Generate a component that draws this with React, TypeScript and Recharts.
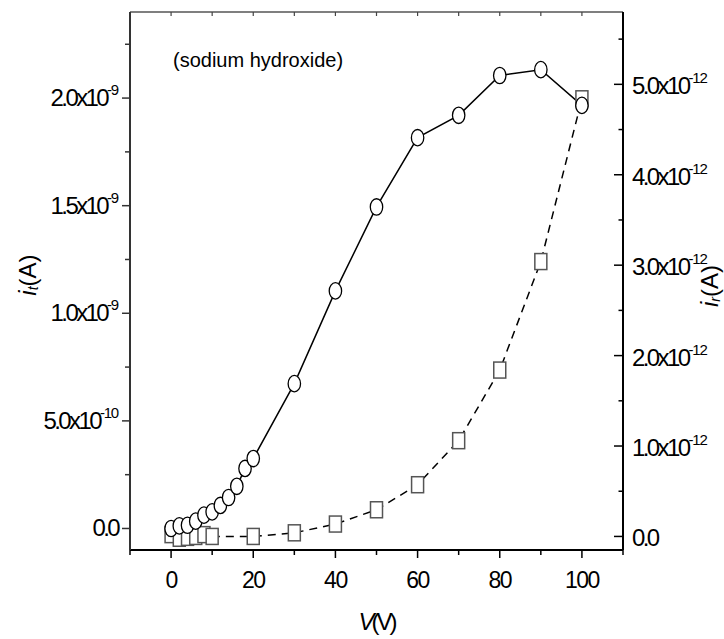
import { LineChart, Line, XAxis, YAxis, Label } from 'recharts';

// applied voltage (V)
const circleV = [0, 2, 4, 6, 8, 10, 12, 14, 16, 18, 20, 30, 40, 50, 60, 70, 80, 90, 100];
// i_t in units of 1e-9 A
const circleIt = [0.0, 0.012, 0.015, 0.034, 0.062, 0.077, 0.107, 0.144, 0.196, 0.279, 0.325, 0.673, 1.104, 1.494, 1.816, 1.92, 2.105, 2.132, 1.966];

const squareV = [0, 2, 4, 6, 8, 10, 20, 30, 40, 50, 60, 70, 80, 90, 100];
// i_r in units of 1e-12 A
const squareIr = [0.02, -0.02, -0.01, 0.0, 0.02, 0.0, 0.0, 0.04, 0.137, 0.295, 0.572, 1.059, 1.84, 3.04, 4.84];

const xTicks = [-10, 0, 10, 20, 30, 40, 50, 60, 70, 80, 90, 100, 110];
const leftTicks = [0, 0.25, 0.5, 0.75, 1, 1.25, 1.5, 1.75, 2, 2.25];
const rightTicks = [0, 0.5, 1, 1.5, 2, 2.5, 3, 3.5, 4, 4.5, 5, 5.5];
const leftLabels: Record<string, [string, string]> = {
  '0': ['0.0', ''],
  '0.5': ['5.0x10', '-10'],
  '1': ['1.0x10', '-9'],
  '1.5': ['1.5x10', '-9'],
  '2': ['2.0x10', '-9'],
};

const itData = circleV.map((v, i) => ({ v, y: circleIt[i] }));
const irData = squareV.map((v, i) => ({ v, y: squareIr[i] }));

const FONT = '"Liberation Sans", Arial, sans-serif';

function BottomTick({ x, y, payload }: any) {
  const v = payload.value;
  const major = v % 20 === 0;
  return (
    <g>
      <line x1={x} x2={x} y1={y} y2={y + (major ? 8 : 5)} stroke="#000" strokeWidth={1.5} />
      {major && (
        <text x={x} y={y + 38} textAnchor="middle" fontSize={23} letterSpacing={-1.5} fill="#000" fontFamily={FONT}>
          {v}
        </text>
      )}
    </g>
  );
}

function TopTick({ x, y }: any) {
  return <line x1={x} x2={x} y1={y} y2={y + 4} stroke="#444" strokeWidth={1.2} />;
}

function LeftTick({ x, y, payload }: any) {
  const v = payload.value;
  const lab = leftLabels[String(v)];
  return (
    <g>
      <line x1={x - (lab ? 8 : 5)} x2={x} y1={y} y2={y} stroke="#333" strokeWidth={1.5} />
      {lab && (
        <text x={x - 12} y={y + 8} textAnchor="end" fontSize={24} letterSpacing={-2.6} fill="#000" fontFamily={FONT}>
          {lab[0]}
          {lab[1] && (
            <tspan fontSize={15} dy={-11} letterSpacing={-1.2}>
              {lab[1]}
            </tspan>
          )}
        </text>
      )}
    </g>
  );
}

function RightTick({ x, y, payload }: any) {
  const v = payload.value;
  const major = Number.isInteger(v);
  return (
    <g>
      <line x1={x} x2={x - (major ? 9 : 4.5)} y1={y} y2={y} stroke="#000" strokeWidth={1.5} />
      {major && (
        <text x={x + 9} y={y + 10} textAnchor="start" fontSize={24} letterSpacing={-2.6} fill="#000" fontFamily={FONT}>
          {v === 0 ? '0.0' : `${v}.0x10`}
          {v !== 0 && (
            <tspan fontSize={15} dy={-11} letterSpacing={-1.2}>
              -12
            </tspan>
          )}
        </text>
      )}
    </g>
  );
}

function CircleDot({ cx, cy, index }: any) {
  return <ellipse key={`c${index}`} cx={cx} cy={cy} rx={6.2} ry={8.2} fill="#fff" stroke="#000" strokeWidth={1.3} />;
}

function SquareDot({ cx, cy, index }: any) {
  return <rect key={`s${index}`} x={cx - 6} y={cy - 8} width={12} height={16} fill="#fff" stroke="#555" strokeWidth={1.5} />;
}

function AxisTitle({ cx, cy, sub, rotate }: { cx: number; cy: number; sub: string; rotate?: boolean }) {
  return (
    <text
      x={cx}
      y={cy}
      textAnchor="middle"
      dominantBaseline="central"
      fontSize={24}
      fill="#000"
      fontFamily={FONT}
      transform={rotate ? `rotate(-90 ${cx} ${cy})` : undefined}
    >
      <tspan fontStyle="italic">i</tspan>
      <tspan fontStyle="italic" fontSize={14} dy={6}>
        {sub}
      </tspan>
      <tspan dy={-6}>(A)</tspan>
    </text>
  );
}

export default function App() {
  return (
    <div style={{ position: 'absolute', left: 0, top: 0, width: 724, height: 639, background: '#fff' }}>
      <LineChart width={724} height={639} margin={{ top: 11, right: 0, bottom: 0, left: 0 }}>
        <XAxis
          xAxisId="b"
          type="number"
          dataKey="v"
          domain={[-10, 110]}
          ticks={xTicks}
          interval={0}
          height={89}
          tickSize={0}
          tickMargin={0}
          tickLine={false}
          tick={<BottomTick />}
          axisLine={{ stroke: '#000', strokeWidth: 2 }}
        >
          <Label
            content={({ viewBox }: any) => (
              <text
                x={viewBox.x + viewBox.width / 2}
                y={viewBox.y + 80}
                textAnchor="middle"
                fontSize={24}
                letterSpacing={-3}
                fill="#000"
                fontFamily={FONT}
              >
                <tspan fontStyle="italic">V</tspan>(V)
              </text>
            )}
          />
        </XAxis>
        <XAxis
          xAxisId="t"
          orientation="top"
          type="number"
          dataKey="v"
          domain={[-10, 110]}
          ticks={xTicks.slice(1, -1)}
          interval={0}
          height={1}
          tickSize={0}
          tickMargin={0}
          tickLine={false}
          tick={<TopTick />}
          axisLine={{ stroke: '#555', strokeWidth: 1.5 }}
        >
          <Label
            content={({ viewBox }: any) => (
              <text x={viewBox.x + 43} y={viewBox.y + 56} fontSize={20} fill="#000" fontFamily={FONT}>
                (sodium hydroxide)
              </text>
            )}
          />
        </XAxis>
        <YAxis
          yAxisId="l"
          orientation="left"
          type="number"
          domain={[-0.1, 2.4]}
          ticks={leftTicks}
          interval={0}
          width={130}
          tickSize={0}
          tickMargin={0}
          tickLine={false}
          tick={<LeftTick />}
          axisLine={{ stroke: '#333', strokeWidth: 2 }}
        >
          <Label content={({ viewBox }: any) => <AxisTitle cx={viewBox.x + 27} cy={275} sub="t" rotate />} />
        </YAxis>
        <YAxis
          yAxisId="r"
          orientation="right"
          type="number"
          domain={[-0.15, 5.8]}
          ticks={rightTicks}
          interval={0}
          width={101}
          tickSize={0}
          tickMargin={0}
          tickLine={false}
          tick={<RightTick />}
          axisLine={{ stroke: '#000', strokeWidth: 2 }}
        >
          <Label content={({ viewBox }: any) => <AxisTitle cx={viewBox.x + 86} cy={286} sub="r" rotate />} />
        </YAxis>
        <Line
          xAxisId="b"
          yAxisId="r"
          data={irData}
          dataKey="y"
          type="linear"
          stroke="#000"
          strokeWidth={1.5}
          strokeDasharray="8 6"
          dot={<SquareDot />}
          activeDot={false}
          isAnimationActive={false}
        />
        <Line
          xAxisId="t"
          yAxisId="l"
          data={itData}
          dataKey="y"
          type="linear"
          stroke="#000"
          strokeWidth={1.5}
          dot={<CircleDot />}
          activeDot={false}
          isAnimationActive={false}
        />
      </LineChart>
    </div>
  );
}
